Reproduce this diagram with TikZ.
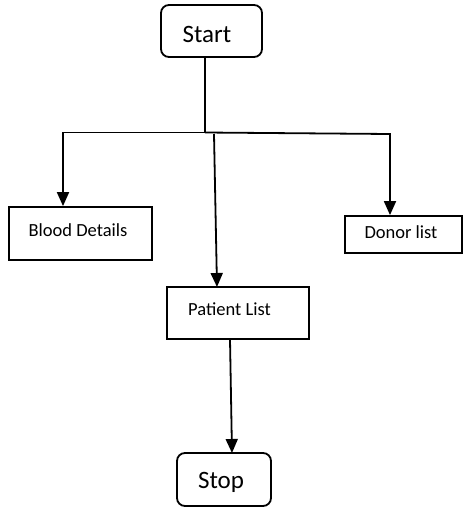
\documentclass[tikz,border=0pt]{standalone}
\usepackage{fontspec}
\setmainfont{Carlito}
\usetikzlibrary{arrows.meta}
\tikzset{
  term/.style={draw, line width=1.8pt, rounded corners=8pt, inner sep=0pt},
  procbox/.style={draw, line width=1.8pt, inner sep=0pt},
  lbl/.style={font=\fontsize{18.5}{21}\selectfont, inner sep=0pt},
  biglbl/.style={font=\fontsize{25}{28}\selectfont, inner sep=0pt},
  conn/.style={line width=1.8pt},
  arr/.style={line width=1.8pt, -{Triangle[width=12pt,length=14pt]}}
}
\begin{document}
\begin{tikzpicture}[x=1pt,y=-1pt]
\useasboundingbox (0,0) rectangle (463,507);
% boxes
\node[term, minimum width=101pt, minimum height=52pt] (start) at (211.5,31) {};
\node[biglbl] (starttxt) at (207,34) {Start};
\node[procbox, minimum width=143pt, minimum height=53pt] (blood) at (80.5,233.5) {};
\node[lbl] (bloodtxt) at (78,230) {Blood Details};
\node[procbox, minimum width=117pt, minimum height=37pt] (donor) at (403.5,234.5) {};
\node[lbl] (donortxt) at (401,232) {Donor list};
\node[procbox, minimum width=142pt, minimum height=52pt] (patient) at (238,313) {};
\node[lbl] (patienttxt) at (229.5,309) {Patient List};
\node[term, minimum width=94pt, minimum height=53pt] (stop) at (224,479.5) {};
\node[biglbl] (stoptxt) at (221,482) {Stop};
% junctions
\coordinate (j) at (205,132.5);
\coordinate (jl) at (63,132.5);
\coordinate (jr) at (390,134);
\coordinate (jm) at (214,134);
\coordinate (pt) at (217,287);
\coordinate (pb) at (230,339);
\coordinate (st) at (232,453);
% connectors
\draw[conn] (j |- start.south) -- (j);
\draw[arr] (j) -- (jl) -- (jl |- blood.north);
\draw[arr] (j) -- (jr) -- (jr |- donor.north);
\draw[arr] (jm) -- (pt);
\draw[arr] (pb) -- (st);
\end{tikzpicture}
\end{document}
